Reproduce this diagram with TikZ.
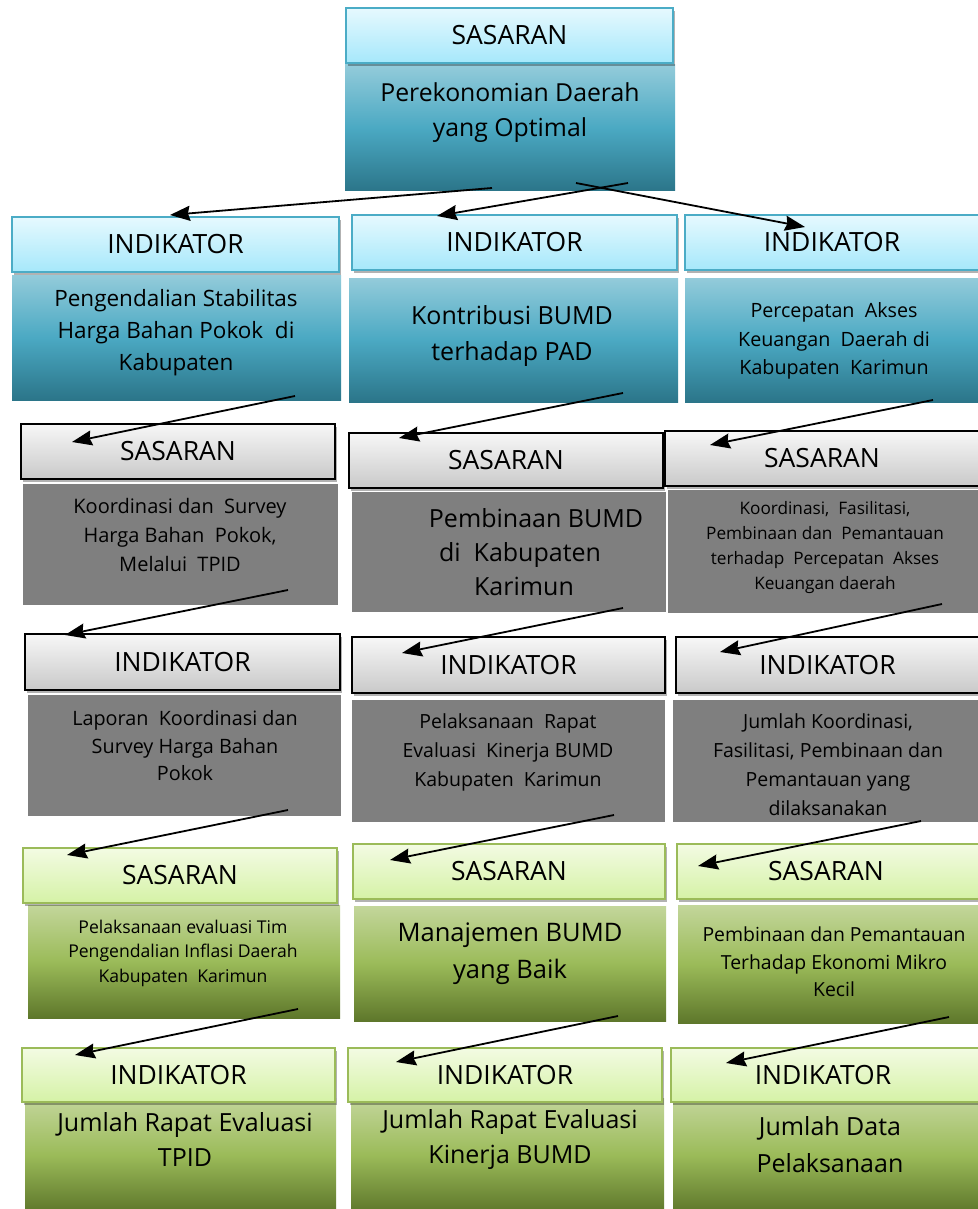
\documentclass[tikz,border=0pt]{standalone}
\usepackage{fontspec}
\setmainfont{Open Sans}
\usetikzlibrary{shadows,arrows.meta}
\definecolor{cyanBorder}{HTML}{4BACC6}
\definecolor{cyanTop}{HTML}{E6F9FE}
\definecolor{cyanBot}{HTML}{A6E8FB}
\definecolor{tealTop}{HTML}{93CBDA}
\definecolor{tealMid}{HTML}{4BA9C3}
\definecolor{tealBot}{HTML}{2B7589}
\definecolor{grayTop}{HTML}{F7F7F7}
\definecolor{grayBot}{HTML}{C9C9C9}
\definecolor{grayBody}{HTML}{7F7F7F}
\definecolor{greenBorder}{HTML}{9BBB59}
\definecolor{greenTop}{HTML}{F3FBE3}
\definecolor{greenBot}{HTML}{D5F2A6}
\definecolor{gbTop}{HTML}{C3D69B}
\definecolor{gbMid}{HTML}{9BBB59}
\definecolor{gbBot}{HTML}{5E772B}
\newcommand\fsz[2]{\fontsize{#1}{#2}\selectfont}
\newcommand\mkrect[7]{\node[#6, anchor=north west, inner sep=0pt, outer sep=0pt,
  minimum width={(#4-#2)*1pt}, minimum height={(#5-#3)*1pt}] (#1) at (#2,#3) {#7};}
\tikzset{
  shadowed/.style={drop shadow={shadow xshift=2pt, shadow yshift=-3pt, opacity=0.3, fill=black}},
  headfont/.style={font=\fsz{26.5}{30}},
  cyanhead/.style={draw=cyanBorder, line width=1.6pt, top color=cyanTop, bottom color=cyanBot, shadowed, headfont},
  tealbody/.style={top color=tealTop, bottom color=tealBot, middle color=tealMid},
  grayhead/.style={draw=black, line width=1.6pt, top color=grayTop, bottom color=grayBot, shadowed, headfont},
  graybody/.style={fill=grayBody},
  greenhead/.style={draw=greenBorder, line width=1.6pt, top color=greenTop, bottom color=greenBot, shadowed, headfont},
  greenbody/.style={top color=gbTop, bottom color=gbBot, middle color=gbMid},
  txt/.style={align=center, inner sep=0pt, text=black},
  arr/.style={line width=1.8pt, draw=black, -{Stealth[length=20pt, width=15pt, inset=2pt]}},
}
\begin{document}
\begin{tikzpicture}[x=1pt, y=-1pt]
\useasboundingbox (0,0) rectangle (977,1209);
\fill[white] (0,0) rectangle (977,1209);
% ---------- top
\mkrect{b0}{345}{65}{675}{191}{tealbody}{}
\mkrect{h0}{346}{8}{673}{63}{cyanhead}{SASARAN}
\node[txt, font=\fsz{24.8}{35}] (t0) at (510,112.5) {Perekonomian Daerah\\yang Optimal};
% ---------- row 1
\mkrect{b1}{12}{275}{341}{400}{tealbody}{}
\mkrect{h1}{12}{217}{339}{272}{cyanhead}{INDIKATOR}
\node[txt, font=\fsz{22.5}{32}] (t1) at (176,333) {Pengendalian Stabilitas\\Harga Bahan Pokok\ \ di\\Kabupaten};
\mkrect{b2}{349}{278}{678}{402}{tealbody}{}
\mkrect{h2}{352}{215}{677}{270}{cyanhead}{INDIKATOR}
\node[txt, font=\fsz{25}{36}] (t2) at (512,336) {Kontribusi BUMD\\terhadap PAD};
\mkrect{b3}{685}{278}{985}{402}{tealbody}{}
\mkrect{h3}{685}{215}{985}{270}{cyanhead}{\hspace*{-6pt}INDIKATOR}
\node[txt, font=\fsz{19.7}{28.5}] (t3) at (834,341) {Percepatan\ \ Akses\\Keuangan\ \ Daerah di\\Kabupaten\ \ Karimun};
% ---------- row 2
\mkrect{b4}{23}{484}{338}{605}{graybody}{}
\mkrect{h4}{21}{424}{335}{479}{grayhead}{SASARAN}
\node[txt, font=\fsz{20}{29}] (t4) at (180,535) {Koordinasi dan\ \ Survey\\Harga Bahan\ \ Pokok,\\Melalui\ \ TPID};
\mkrect{b5}{352}{492}{666}{612}{graybody}{}
\mkrect{h5}{349}{433}{663}{488}{grayhead}{SASARAN}
\node[txt, font=\fsz{25}{34}] (t5) at (536,552) {Pembinaan BUMD\\\hspace*{-32pt}di\ \ Kabupaten\\\hspace*{-24pt}Karimun};
\mkrect{b6}{668}{490}{985}{613}{graybody}{}
\mkrect{h6}{665}{431}{985}{486}{grayhead}{\hspace*{-6pt}SASARAN}
\node[txt, font=\fsz{17.2}{25}] (t6) at (825,548) {Koordinasi,\ \ Fasilitasi,\\Pembinaan dan\ \ Pemantauan\\terhadap\ \ Percepatan\ \ Akses\\Keuangan daerah};
% ---------- row 3
\mkrect{b7}{28}{695}{341}{816}{graybody}{}
\mkrect{h7}{25}{634}{340}{690}{grayhead}{INDIKATOR}
\node[txt, font=\fsz{19.8}{27.5}] (t7) at (185,746) {Laporan\ \ Koordinasi dan\\Survey Harga Bahan\\Pokok};
\mkrect{b8}{352}{700}{665}{822}{graybody}{}
\mkrect{h8}{352}{637}{665}{693}{grayhead}{INDIKATOR}
\node[txt, font=\fsz{19.5}{29}] (t8) at (508,752) {Pelaksanaan\ \ Rapat\\Evaluasi\ \ Kinerja BUMD\\Kabupaten\ \ Karimun};
\mkrect{b9}{673}{700}{985}{822}{graybody}{}
\mkrect{h9}{676}{637}{985}{693}{grayhead}{\hspace*{-6pt}INDIKATOR}
\node[txt, font=\fsz{19.5}{29}] (t9) at (828,765) {Jumlah Koordinasi,\\Fasilitasi, Pembinaan dan\\Pemantauan yang\\dilaksanakan};
% ---------- row 4
\mkrect{b10}{28}{905}{340}{1018}{greenbody}{}
\mkrect{h10}{23}{848}{337}{903}{greenhead}{SASARAN}
\node[txt, font=\fsz{17.6}{24.5}] (t10) at (183,953) {Pelaksanaan evaluasi Tim\\Pengendalian Inflasi\ Daerah\\Kabupaten\ \ Karimun};
\mkrect{b11}{354}{906}{666}{1021}{greenbody}{}
\mkrect{h11}{353}{844}{665}{899}{greenhead}{SASARAN}
\node[txt, font=\fsz{25.5}{37}] (t11) at (510,954) {Manajemen\ BUMD\\yang Baik};
\mkrect{b12}{678}{905}{985}{1023}{greenbody}{}
\mkrect{h12}{677}{844}{985}{899}{greenhead}{\hspace*{-10pt}SASARAN}
\node[txt, font=\fsz{19.4}{27.5}] (t12) at (834,962) {Pembinaan dan Pemantauan\\Terhadap Ekonomi Mikro\\Kecil};
% ---------- row 5
\mkrect{b13}{25}{1098}{336}{1212}{greenbody}{}
\mkrect{h13}{22}{1048}{335}{1102}{greenhead}{INDIKATOR}
\node[txt, font=\fsz{25}{35}] (t13) at (185,1139) {Jumlah Rapat Evaluasi\\TPID};
\mkrect{b14}{351}{1098}{664}{1212}{greenbody}{}
\mkrect{h14}{348}{1048}{662}{1102}{greenhead}{INDIKATOR}
\node[txt, font=\fsz{25}{35}] (t14) at (510,1139) {Jumlah Rapat Evaluasi\\Kinerja BUMD};
\mkrect{b15}{673}{1098}{985}{1212}{greenbody}{}
\mkrect{h15}{671}{1048}{985}{1102}{greenhead}{\hspace*{-10pt}INDIKATOR}
\node[txt, font=\fsz{25}{37}] (t15) at (830,1145) {Jumlah Data\\Pelaksanaan};
% ---------- arrow end points
\coordinate (s1) at (492,188); \coordinate (e1) at (170,215);
\coordinate (s2) at (628,183); \coordinate (e2) at (437,216);
\coordinate (s3) at (576,183); \coordinate (e3) at (805,227);
\coordinate (s4) at (295,396); \coordinate (e4) at (72,442);
\coordinate (s5) at (623,393); \coordinate (e5) at (399,438);
\coordinate (s6) at (933,400); \coordinate (e6) at (710,445);
\coordinate (s7) at (288,590); \coordinate (e7) at (65,635);
\coordinate (s8) at (623,608); \coordinate (e8) at (402,653);
\coordinate (s9) at (942,604); \coordinate (e9) at (720,652);
\coordinate (s10) at (288,810); \coordinate (e10) at (67,855);
\coordinate (s11) at (614,815); \coordinate (e11) at (390,860);
\coordinate (s12) at (921,821); \coordinate (e12) at (698,866);
\coordinate (s13) at (298,1009); \coordinate (e13) at (75,1055);
\coordinate (s14) at (618,1016); \coordinate (e14) at (396,1062);
\coordinate (s15) at (949,1017); \coordinate (e15) at (726,1063);
\foreach \i in {1,...,15} { \draw[arr] (s\i) -- (e\i); }
\end{tikzpicture}
\end{document}
